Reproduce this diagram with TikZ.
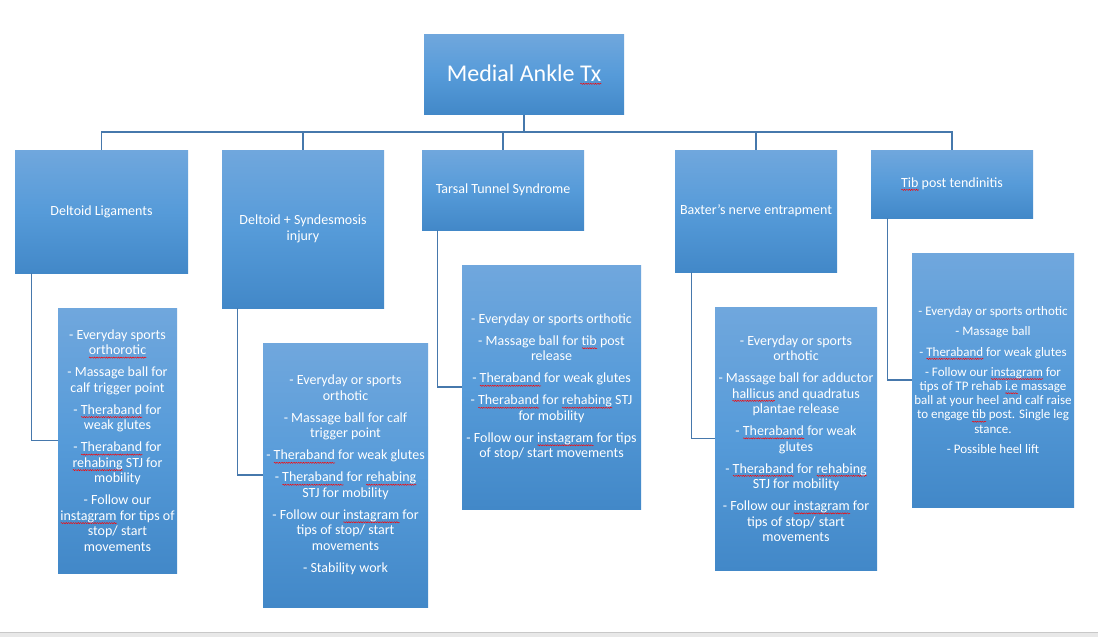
\documentclass[tikz,border=0pt]{standalone}
\usepackage{fontspec}
\setmainfont{Carlito}
\usetikzlibrary{decorations.pathmorphing}
\definecolor{boxtop}{RGB}{112,167,221}
\definecolor{boxmid}{RGB}{86,155,217}
\definecolor{boxbot}{RGB}{66,136,200}
\definecolor{conn}{RGB}{70,120,172}
\definecolor{graybg}{RGB}{232,232,232}
\definecolor{grayline}{RGB}{200,200,200}
\newsavebox\sqbox
\newlength\sqw
\newcommand\sq[1]{\sbox\sqbox{#1}\setlength\sqw{\wd\sqbox}\leavevmode\rlap{\raisebox{-2.8pt}{\tikz[x=1pt,y=1pt,baseline=0pt]\draw[red,line width=0.45pt,decorate,decoration={snake,amplitude=0.6pt,segment length=2.4pt}] (0,0) -- (\sqw,0);}}\usebox\sqbox}
\tikzset{
  box/.style={rectangle, inner sep=0pt, top color=boxtop, bottom color=boxbot, middle color=boxmid, text=white, align=center},
  rootbox/.style={box, font=\fontsize{24}{28}\selectfont},
  lone/.style={box, font=\fontsize{14}{16.5}\selectfont},
  ltwo/.style={box, font=\fontsize{14}{15.5}\selectfont},
  lsmall/.style={box, font=\fontsize{13}{14.2}\selectfont},
  conline/.style={draw=conn, line width=1.2pt}
}
\begin{document}
\begin{tikzpicture}[x=1pt,y=-1pt]
\useasboundingbox (0,0) rectangle (1098,637);
\fill[white] (0,0) rectangle (1098,637);
\fill[graybg] (0,632) rectangle (1098,637);
\draw[grayline] (0,632) -- (1098,632);

\node[rootbox, minimum width=200pt, minimum height=80pt] (root) at (524,74.5) {Medial Ankle \sq{Tx}};

\node[lone, minimum width=173pt, minimum height=123pt] (a1) at (101.5,211.5) {Deltoid Ligaments};
\node[lone, minimum width=162pt, minimum height=158pt] (b1) at (303,229) {Deltoid + Syndesmosis\\ injury};
\node[lone, minimum width=162pt, minimum height=80pt] (c1) at (503,190) {Tarsal Tunnel Syndrome};
\node[lone, minimum width=162pt, minimum height=122pt] (d1) at (756,211) {Baxter’s nerve entrapment};
\node[lone, minimum width=162pt, minimum height=68pt] (e1) at (952,184) {\sq{Tib} post tendinitis};

\node[ltwo, minimum width=119pt, minimum height=265pt] (a2) at (117.5,440.5) {%
- Everyday sports\\ \sq{orthorotic}\\[6.5pt]
- Massage ball for\\ calf trigger point\\[6.5pt]
- \sq{Theraband} for\\ weak glutes\\[6.5pt]
- \sq{Theraband} for\\ \sq{rehabing} STJ for\\ mobility\\[6.5pt]
- Follow our\\ \sq{instagram} for tips of\\ stop/ start\\ movements};

\node[ltwo, minimum width=165pt, minimum height=264pt] (b2) at (345.5,475) {%
- Everyday or sports\\ orthotic\\[6.5pt]
- Massage ball for calf\\ trigger point\\[6.5pt]
- \sq{Theraband} for weak glutes\\[6.5pt]
- \sq{Theraband} for \sq{rehabing}\\ STJ for mobility\\[6.5pt]
- Follow our \sq{instagram} for\\ tips of stop/ start\\ movements\\[6.5pt]
- Stability work};

\node[ltwo, minimum width=179pt, minimum height=244pt] (c2) at (551.5,387) {%
- Everyday or sports orthotic\\[6.5pt]
- Massage ball for \sq{tib} post\\ release\\[6.5pt]
- \sq{Theraband} for weak glutes\\[6.5pt]
- \sq{Theraband} for \sq{rehabing} STJ\\ for mobility\\[6.5pt]
- Follow our \sq{instagram} for tips\\ of stop/ start movements};

\node[ltwo, minimum width=162pt, minimum height=263pt] (d2) at (796,438.5) {%
- Everyday or sports\\ orthotic\\[6.5pt]
- Massage ball for adductor\\ \sq{hallicus} and quadratus\\ plantae release\\[6.5pt]
- \sq{Theraband} for weak\\ glutes\\[6.5pt]
- \sq{Theraband} for \sq{rehabing}\\ STJ for mobility\\[6.5pt]
- Follow our \sq{instagram} for\\ tips of stop/ start\\ movements};

\node[lsmall, minimum width=162pt, minimum height=254pt] (e2) at (993,380) {%
- Everyday or sports orthotic\\[6pt]
- Massage ball\\[6pt]
- \sq{Theraband} for weak glutes\\[6pt]
- Follow our \sq{instagram} for\\ tips of TP rehab \sq{i.e} massage\\ ball at your heel and calf raise\\ to engage \sq{tib} post. Single leg\\ stance.\\[6pt]
- Possible heel lift};

\coordinate (bus) at (524,132);
\draw[conline] (root.south) -- (bus);
\draw[conline] (a1.north) |- (bus) -| (e1.north);
\draw[conline] (b1.north) -- (b1.north |- bus);
\draw[conline] (c1.north) -- (c1.north |- bus);
\draw[conline] (d1.north) -- (d1.north |- bus);

\draw[conline] ([xshift=17pt]a1.south west) |- (a2.west);
\draw[conline] ([xshift=16pt]b1.south west) |- (b2.west);
\draw[conline] ([xshift=16pt]c1.south west) |- (c2.west);
\draw[conline] ([xshift=16.5pt]d1.south west) |- (d2.west);
\draw[conline] ([xshift=17pt]e1.south west) |- (e2.west);
\end{tikzpicture}
\end{document}
